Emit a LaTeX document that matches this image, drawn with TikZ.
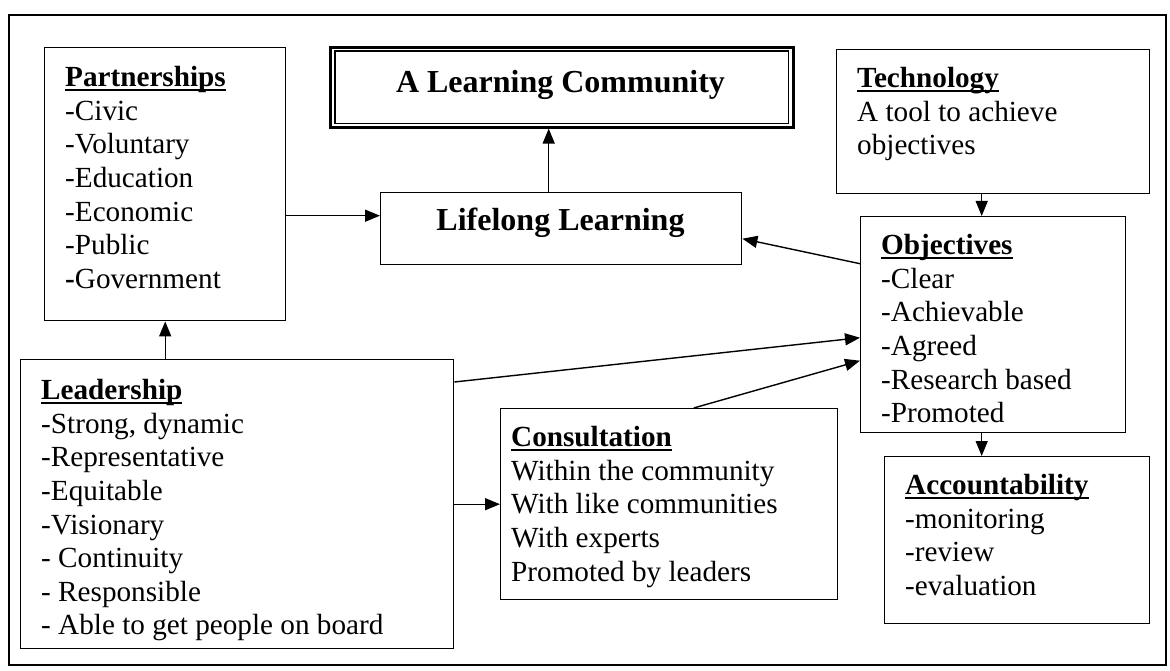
\documentclass[tikz,border=0pt]{standalone}
\usepackage{fontspec}
\setmainfont{Liberation Serif}
\usetikzlibrary{arrows.meta}
\newcommand\headul[1]{\setbox0=\hbox{\bfseries #1}\rlap{\rule[-4pt]{\wd0}{1.8pt}}\box0}
\tikzset{
  bx/.style={draw, line width=1.4pt, inner sep=0pt, anchor=north west},
  txt/.style={anchor=north west, inner sep=0pt, align=left, font=\fontsize{29.2}{33.6}\selectfont},
  big/.style={anchor=base, inner sep=0pt, font=\fontsize{32}{38}\selectfont\bfseries},
  arr/.style={line width=1.4pt, -{Triangle[length=15pt,width=12pt]}}
}
\begin{document}
\begin{tikzpicture}[x=1pt,y=-1pt]
\useasboundingbox (0,0) rectangle (1170,671);
\node[bx, line width=1.6pt, minimum width=1157pt, minimum height=650pt] (frame) at (8,14) {};
% boxes
\node[bx, minimum width=241pt, minimum height=273pt] (partbox) at (44,47) {};
\node[bx, line width=2.6pt, minimum width=463pt, minimum height=80pt] (alcbox) at (329,46) {};
\draw[line width=1.3pt] ([shift={(6pt,-5pt)}]alcbox.north west) rectangle ([shift={(-6pt,5pt)}]alcbox.south east);
\node[bx, minimum width=361pt, minimum height=72pt] (lifebox) at (380,192) {};
\node[bx, minimum width=313pt, minimum height=144pt] (techbox) at (836,49) {};
\node[bx, minimum width=265pt, minimum height=216pt] (objbox) at (860,216) {};
\node[bx, minimum width=433pt, minimum height=289pt] (leadbox) at (20,359) {};
\node[bx, minimum width=337pt, minimum height=191pt] (consbox) at (500,408) {};
\node[bx, minimum width=265pt, minimum height=167pt] (accbox) at (884,456) {};
% texts
\node[big] (alctxt) at (560.5,93) {A Learning Community};
\node[big] (lifetxt) at (560.5,231) {Lifelong Learning};
\node[txt] (parttxt) at (65,62.5) {\rule{0pt}{24pt}\headul{Partnerships}\\-Civic\\-Voluntary\\-Education\\-Economic\\-Public\\\textbf{-}Government};
\node[txt] (leadtxt) at (41,375.5) {\rule{0pt}{24pt}\headul{Leadership}\\-Strong, dynamic\\-Representative\\-Equitable\\-Visionary\\- Continuity\\- Responsible\\- Able to get people on board};
\node[txt] (constxt) at (511,422.5) {\rule{0pt}{24pt}\headul{Consultation}\\Within the community\\With like communities\\With experts\\Promoted by leaders};
\node[txt] (techtxt) at (857,63.5) {\rule{0pt}{24pt}\headul{Technology}\\A tool to achieve\\objectives};
\node[txt] (objtxt) at (881,230.5) {\rule{0pt}{24pt}\headul{Objectives}\\-Clear\\-Achievable\\-Agreed\\-Research based\\-Promoted};
\node[txt] (acctxt) at (905,470.5) {\rule{0pt}{24pt}\headul{Accountability}\\-monitoring\\-review\\-evaluation};
% connectors
\coordinate (pl) at ([yshift=13pt]lifebox.west);
\draw[arr] (pl -| partbox.east) -- (pl);
\coordinate (la) at ([xshift=-12.5pt]lifebox.north);
\draw[arr] (la) -- (la |- alcbox.south);
\coordinate (to) at ([xshift=-11.5pt]techbox.south);
\draw[arr] (to) -- (to |- objbox.north);
\coordinate (oa) at ([xshift=-11.5pt]objbox.south);
\draw[arr] (oa) -- (oa |- accbox.north);
\draw[arr] ([yshift=61pt]objbox.west) -- ([yshift=-10pt]lifebox.east);
\draw[arr] ([yshift=-23pt]leadbox.north east) -- ([yshift=-13pt]objbox.west);
\draw[arr] ([xshift=24.5pt]consbox.north) -- ([yshift=-36pt]objbox.west);
\draw[arr] (leadbox.east |- consbox.west) -- (consbox.west);
\draw[arr] (partbox.south |- leadbox.north) -- (partbox.south);
\end{tikzpicture}
\end{document}
